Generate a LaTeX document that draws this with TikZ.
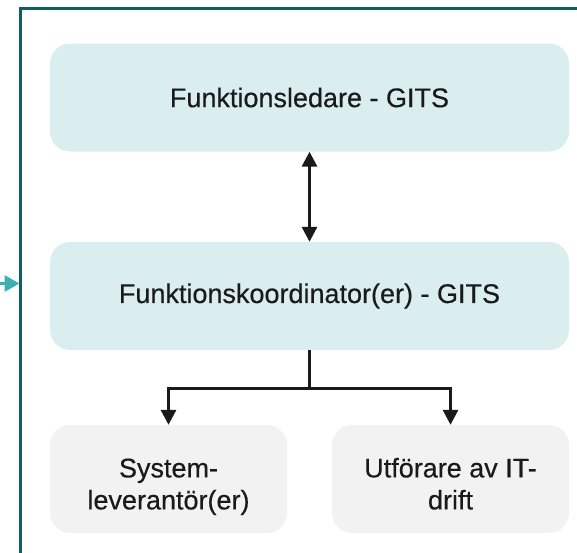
\documentclass[tikz,border=0pt]{standalone}
\usepackage{fontspec}
\setmainfont{Liberation Sans}[FakeBold=0.4]
\usetikzlibrary{arrows.meta}
\definecolor{frameteal}{HTML}{0E5F5F}
\definecolor{inteal}{HTML}{3BAFB3}
\definecolor{lightteal}{HTML}{DAEEF0}
\definecolor{lightgray}{HTML}{F2F2F2}
\definecolor{ink}{HTML}{1A1A1A}
% two centred lines, set a little below the middle of their box
\newcommand{\twolines}[2]{\raisebox{0pt}[\dimexpr\height+8pt][\dimexpr\depth-8pt]{\begin{tabular}{@{}c@{}}#1\\#2\end{tabular}}}
\tikzset{
  rolebox/.style={rectangle, rounded corners=20pt, draw=none, align=center,
    text=ink, font=\fontsize{27}{32}\selectfont, inner sep=0pt},
  leadbox/.style={rolebox, fill=lightteal, minimum width=519pt, minimum height=108pt},
  partbox/.style={rolebox, fill=lightgray, minimum width=237pt, minimum height=108pt},
  link/.style={draw=ink, line width=3pt},
  tip/.style={-{Triangle[length=15pt,width=15pt]}},
}
\begin{document}
\begin{tikzpicture}[x=1pt,y=-1pt]
\useasboundingbox (0,0) rectangle (577,552);
% frame of the organisation
\coordinate (fbot) at (20.5,560);
\coordinate (fcorner) at (20.5,8.5);
\coordinate (fright) at (585,8.5);
\draw[frameteal, line width=3pt] (fbot) -- (fcorner) -- (fright);
% incoming arrow
\coordinate (inA) at (0,283.5);
\coordinate (inB) at (19.5,283.5);
\draw[inteal, line width=3pt, -{Triangle[length=15pt,width=16pt]}] (inA) -- (inB);
% boxes
\node[leadbox] (lead) at (309.5,97.5) {Funktionsledare - GITS};
\node[leadbox] (coord) at (309.5,296) {Funktionskoordinator(er) - GITS};
\node[partbox] (sys) at (168.5,479) {\twolines{System-}{leverantör(er)}};
\node[partbox] (ops) at (450.5,479) {\twolines{Utförare av IT-}{drift}};
% connectors
\draw[link, {Triangle[length=15pt,width=15pt]}-{Triangle[length=15pt,width=15pt]}] (lead.south) -- (coord.north);
\coordinate (split) at (309.5,388);
\draw[link] (coord.south) -- (split);
\draw[link, tip] (split) -| (sys.north);
\draw[link, tip] (split) -| (ops.north);
\end{tikzpicture}
\end{document}
